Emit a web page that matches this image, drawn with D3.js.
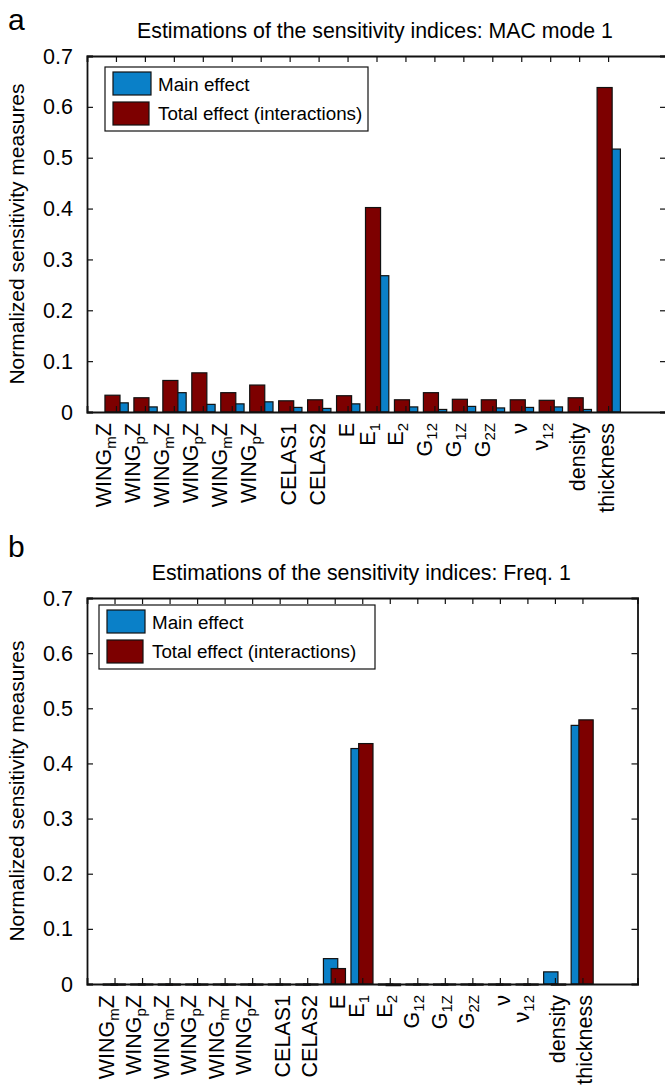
<!DOCTYPE html>
<html>
<head>
<meta charset="utf-8">
<script src="https://cdn.jsdelivr.net/npm/d3@7"></script>
<style>
  body { margin: 0; background: #fff; }
  svg text { font-family: "Liberation Sans", Arial, sans-serif; fill: #000; }
</style>
</head>
<body>
<div id="chart"></div>
<script>
// parameter labels as [base, subscript, tail]
var params = [
  ["WING", "m", "Z"], ["WING", "p", "Z"], ["WING", "m", "Z"], ["WING", "p", "Z"],
  ["WING", "m", "Z"], ["WING", "p", "Z"], ["CELAS1", "", ""], ["CELAS2", "", ""],
  ["E", "", ""], ["E", "1", ""], ["E", "2", ""], ["G", "12", ""], ["G", "1Z", ""],
  ["G", "2Z", ""], ["\u03bd", "", ""], ["\u03bd", "12", ""], ["density", "", ""], ["thickness", "", ""]
];

// panel a: MAC mode 1
var macMain  = [0.018, 0.010, 0.038, 0.015, 0.016, 0.020, 0.009, 0.007, 0.016, 0.268, 0.010, 0.005, 0.011, 0.008, 0.009, 0.010, 0.005, 0.517];
var macTotal = [0.033, 0.028, 0.062, 0.077, 0.038, 0.053, 0.022, 0.024, 0.032, 0.402, 0.024, 0.038, 0.025, 0.024, 0.024, 0.023, 0.028, 0.638];

// panel b: Freq. 1
var freqMain  = [-0.002, -0.001, -0.002, -0.001, -0.001, -0.001, -0.001, -0.002, 0.046, 0.427, -0.001, -0.001, -0.002, -0.001, -0.001, -0.001, 0.022, 0.469];
var freqTotal = [-0.002, -0.001, -0.002, -0.002, -0.002, -0.002, -0.001, -0.001, 0.028, 0.436, -0.003, -0.001, -0.001, -0.002, -0.002, -0.002, -0.002, 0.479];

var yTicks = [0, 0.1, 0.2, 0.3, 0.4, 0.5, 0.6, 0.7];
var legendLabels = ["Main effect", "Total effect (interactions)"];
var blue = "#0a80c8", red = "#7d0000";

var svg = d3.select("#chart").append("svg")
    .attr("width", 665).attr("height", 1086);

var panels = [
  { letter: "a", letterY: 30, title: "Estimations of the sensitivity indices: MAC mode 1",
    left: 87, right: 666, top: 56, bottom: 412, main: macMain, total: macTotal,
    mainOff: -0.095, totalOff: -0.38, labelBase: 6,
    legend: { x: 105, y: 67, w: 263, h: 64 } },
  { letter: "b", letterY: 557, title: "Estimations of the sensitivity indices: Freq. 1",
    left: 87, right: 637.5, top: 598, bottom: 984, main: freqMain, total: freqTotal,
    mainOff: -0.41, totalOff: -0.13, labelBase: 10,
    legend: { x: 99, y: 605, w: 276, h: 64 } }
];

panels.forEach(function(p){
  var x = d3.scaleLinear().domain([0, 20]).range([p.left, p.right]);
  var y = d3.scaleLinear().domain([0, 0.7]).range([p.bottom, p.top]);
  var band = x(1) - x(0);
  var bw = 0.52 * band;
  var g = svg.append("g");

  // panel letter and title
  g.append("text").attr("x", 8).attr("y", p.letterY)
    .style("font-size", "30px").text(p.letter);
  g.append("text").attr("x", (p.left + Math.min(p.right, 665)) / 2 - 1).attr("y", p.top - 18)
    .attr("text-anchor", "middle").style("font-size", "21.3px").text(p.title);

  // y label
  g.append("text")
    .attr("transform", "translate(24," + (p.top + p.bottom) / 2 + ") rotate(-90)")
    .attr("text-anchor", "middle").style("font-size", "21px")
    .text("Normalized sensitivity measures");

  // bars: main effect below, total effect on top
  g.selectAll(".main").data(p.main).enter().append("rect")
    .attr("x", function(d, i){ return x(i + 1) + p.mainOff * band; })
    .attr("y", function(d){ return y(Math.max(d, 0)); })
    .attr("width", bw)
    .attr("height", function(d){ return Math.max(Math.abs(y(d) - y(0)), 1); })
    .attr("fill", blue).attr("stroke", "#111").attr("stroke-width", 1.2);

  g.selectAll(".total").data(p.total).enter().append("rect")
    .attr("x", function(d, i){ return x(i + 1) + p.totalOff * band; })
    .attr("y", function(d){ return y(Math.max(d, 0)); })
    .attr("width", bw)
    .attr("height", function(d){ return Math.max(Math.abs(y(d) - y(0)), 1); })
    .attr("fill", red).attr("stroke", "#111").attr("stroke-width", 1.2);

  // axes box with inward ticks
  var cats = d3.range(1, params.length + 1);
  var tk = 6;
  var xb = d3.axisBottom(x).tickValues(cats).tickSize(-tk).tickFormat("");
  var xt = d3.axisTop(x).tickValues(cats).tickSize(-tk).tickFormat("");
  var yl = d3.axisLeft(y).tickValues(yTicks).tickSize(-tk).tickFormat("");
  var yr = d3.axisRight(y).tickValues(yTicks).tickSize(-tk).tickFormat("");
  [[xb, "translate(0," + p.bottom + ")"], [xt, "translate(0," + p.top + ")"],
   [yl, "translate(" + p.left + ",0)"], [yr, "translate(" + p.right + ",0)"]].forEach(function(a){
    var ax = g.append("g").attr("transform", a[1]).call(a[0]);
    ax.select(".domain").attr("stroke", "#111").attr("stroke-width", 1.8);
    ax.selectAll(".tick line").attr("stroke", "#111").attr("stroke-width", 1.2);
  });

  // y tick labels
  g.selectAll(".ylab").data(yTicks).enter().append("text")
    .attr("x", 73).attr("y", function(d){ return y(d) + 7.5; })
    .attr("text-anchor", "end").style("font-size", "21.5px")
    .text(function(d){ return d === 0 ? "0" : d3.format(".1f")(d); });

  // x tick labels, rotated
  params.forEach(function(lab, i){
    var shift = p.labelBase - (lab[1] ? (lab[2] ? 11 : 8) : 0);
    var t = g.append("text")
      .attr("transform", "translate(" + (x(i + 1) + shift) + "," + (p.bottom + 11) + ") rotate(-90)")
      .attr("text-anchor", "end").style("font-size", "21.5px");
    t.append("tspan").text(lab[0]);
    if (lab[1]) t.append("tspan").attr("dy", 5).style("font-size", "15px").text(lab[1]);
    if (lab[2]) t.append("tspan").attr("dy", -5).text(lab[2]);
  });

  // legend
  var L = p.legend;
  var lg = g.append("g");
  lg.append("rect").attr("x", L.x).attr("y", L.y).attr("width", L.w).attr("height", L.h)
    .attr("fill", "#fff").attr("stroke", "#111").attr("stroke-width", 1.2);
  [blue, red].forEach(function(c, k){
    lg.append("rect").attr("x", L.x + 8).attr("y", L.y + 5 + k * 30)
      .attr("width", 38 - k * 2).attr("height", 23)
      .attr("fill", c).attr("stroke", "#111").attr("stroke-width", 1.2);
    lg.append("text").attr("x", L.x + 53).attr("y", L.y + 24 + k * 29)
      .style("font-size", "18.8px").text(legendLabels[k]);
  });
});
</script>
</body>
</html>
